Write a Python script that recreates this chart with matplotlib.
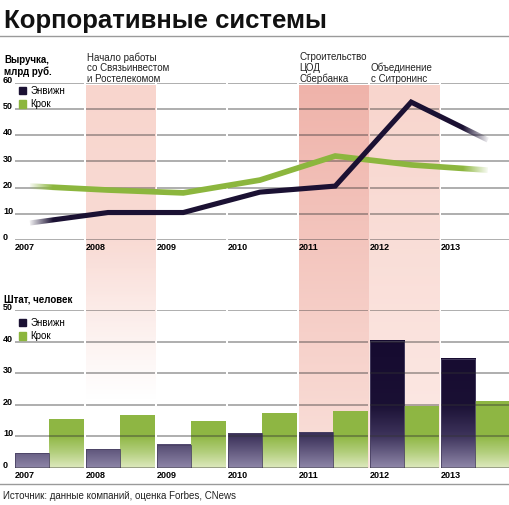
import numpy as np
import matplotlib
matplotlib.use('Agg')
import matplotlib.pyplot as plt
from matplotlib.patches import Rectangle, Patch
from matplotlib import transforms

plt.rcParams['font.family'] = ['Liberation Sans', 'DejaVu Sans']

# --- data ---
years = [2007, 2008, 2009, 2010, 2011, 2012, 2013]
series = ['Энвижн', 'Крок']
# x positions of the revenue points (the chart places them off the year marks)
rev_x = [2007.21, 2008.31, 2009.37, 2010.45, 2011.51, 2012.58, 2013.66]
rev_envision = [6.5, 10.5, 10.5, 18.3, 20.6, 52.7, 38.2]
rev_krok = [20.6, 19.1, 18.0, 22.9, 32.1, 28.7, 26.7]
staff_envision = [4.6, 5.9, 7.3, 11.0, 11.3, 40.3, 34.5]
staff_krok = [15.2, 16.5, 14.6, 17.3, 18.0, 19.6, 20.9]
rev_ticks = [0, 10, 20, 30, 40, 50, 60]
staff_ticks = [0, 10, 20, 30, 40, 50]
event_years = [2008, 2011, 2012]
event_texts = ['Начало работы\nсо Связьинвестом\nи Ростелекомом',
               'Строительство\nЦОД\nСбербанка',
               'Объединение\nс Ситронинс']

DARK = '#1b1133'
GREEN = '#8cb63e'
GRID = '#333333'

W, H = 509, 505
fig = plt.figure(figsize=(W / 100, H / 100), dpi=100)


def fy(py):
    return 1 - py / H


col_px = 71.0
x0_px = 15
xmax = 2007 + (W - x0_px) / col_px

# background layer in pixel coords for the highlighted columns
bg = fig.add_axes([0, 0, 1, 1], zorder=0)
bg.set_xlim(0, W)
bg.set_ylim(H, 0)
bg.axis('off')


def vgrad(ax, x0, x1, y0, y1, top_rgb, bot_rgb, a_knee=None):
    n = 200
    t = np.linspace(0, 1, n)
    img = np.zeros((n, 1, 4))
    for k in range(3):
        img[:, 0, k] = (top_rgb[k] + (bot_rgb[k] - top_rgb[k]) * t) / 255
    if a_knee is None:
        img[:, 0, 3] = 1.0
    else:
        img[:, 0, 3] = np.clip((1 - t) / (1 - a_knee), 0, 1)
    ax.imshow(img, extent=(x0, x1, y1, y0), aspect='auto', origin='upper',
              interpolation='bilinear', zorder=0)


# 2008 column fades out into the lower chart
vgrad(bg, 86, 156, 85, 400, (248, 213, 205), (250, 225, 220), a_knee=0.5)
vgrad(bg, 299, 369, 85, 468, (239, 179, 170), (250, 224, 218))
vgrad(bg, 369, 440, 85, 468, (248, 213, 205), (252, 234, 230))
bg.set_xlim(0, W)
bg.set_ylim(H, 0)

# title and rules
fig.text(4 / W, fy(28), 'Корпоративные системы', fontsize=18.5, fontweight='bold',
         va='baseline', ha='left', color='#111111')
bg.plot([0, W], [36, 36], color='#9a9a9a', lw=1.0)
bg.plot([0, W], [484, 484], color='#9a9a9a', lw=1.0)
fig.text(3 / W, fy(499), 'Источник: данные компаний, оценка Forbes, CNews',
         fontsize=7, va='baseline', ha='left', color='#222222')

# axes
ax1 = fig.add_axes([x0_px / W, fy(240), (W - x0_px) / W, 157 / H], zorder=1)
ax2 = fig.add_axes([x0_px / W, fy(468), (W - x0_px) / W, 158 / H], zorder=1)
for ax in (ax1, ax2):
    ax.patch.set_visible(False)
    for s in ax.spines.values():
        s.set_visible(False)
    ax.set_xlim(2007, xmax)

ax1.set_ylim(0, 60)
ax2.set_ylim(0, 50)


def column_grid(ax, levels, zorder):
    for yr in years:
        ax.hlines(levels, yr, min(yr + 0.972, xmax), colors=GRID, alpha=0.5,
                  lw=1.1, zorder=zorder)


def style_ticks(ax, ticks, xpad):
    ax.set_yticks(ticks)
    ax.set_yticklabels([str(t) for t in ticks], fontsize=6.5, fontweight='bold')
    ax.tick_params(axis='y', length=0, pad=xpad)
    for lab in ax.get_yticklabels():
        lab.set_horizontalalignment('left')
        lab.set_verticalalignment('baseline')
    ax.set_xticks(years)
    ax.set_xticklabels([str(y) for y in years], fontsize=6.5, fontweight='bold')
    ax.tick_params(axis='x', length=0, pad=2.5)
    for lab in ax.get_xticklabels():
        lab.set_horizontalalignment('left')


style_ticks(ax1, rev_ticks, 8.6)
style_ticks(ax2, staff_ticks, 8.6)

# --- revenue lines ---
column_grid(ax1, rev_ticks, 1)


def fading_line(ax, xs, ys, color, lw, zorder, fade_in=0.3, fade_out=0.33):
    # whole polyline drawn once solid in the middle, and again in 1px strips
    # with falling alpha at both ends, so joins stay intact
    xs = np.asarray(xs, float)
    ys = np.asarray(ys, float)
    xa = xs[0] + (xs[1] - xs[0]) * fade_in
    xb = xs[-2] + (xs[-1] - xs[-2]) * (1 - fade_out)
    kw = dict(color=color, lw=lw, solid_joinstyle='miter', solid_capstyle='butt',
              zorder=zorder)
    line, = ax.plot(xs, ys, **kw)
    line.set_clip_path(Rectangle((xa, -100), xb - xa, 300, transform=ax.transData))
    step = 1 / col_px
    left = np.arange(xa, xs[0] - 0.06, -step)
    for k in range(len(left) - 1):
        hi, lo = left[k], left[k + 1]
        a = np.clip(0.05 + 0.95 * ((hi + lo) / 2 - xs[0]) / (xa - xs[0]), 0.05, 1)
        ln, = ax.plot(xs, ys, alpha=a, **kw)
        ln.set_clip_path(Rectangle((lo, -100), hi - lo, 300, transform=ax.transData))
    right = np.arange(xb, xs[-1] + 0.06, step)
    for k in range(len(right) - 1):
        lo, hi = right[k], right[k + 1]
        a = np.clip(0.05 + 0.95 * (xs[-1] - (hi + lo) / 2) / (xs[-1] - xb), 0.05, 1)
        ln, = ax.plot(xs, ys, alpha=a, **kw)
        ln.set_clip_path(Rectangle((lo, -100), hi - lo, 300, transform=ax.transData))


fading_line(ax1, rev_x, rev_krok, GREEN, 4.1, 3)
fading_line(ax1, rev_x, rev_envision, DARK, 3.7, 4)

# --- staff bars with vertical gradients ---
column_grid(ax2, staff_ticks, 5)

dark_stops = ([0, 10, 20, 50], [(142, 134, 168), (62, 52, 92), (26, 16, 52), (20, 8, 46)])
green_stops = ([0, 5, 10, 50], [(222, 233, 190), (178, 206, 124), (143, 183, 68), (141, 182, 63)])


def bar_gradient(ax, x, w, h, stops, zorder):
    vals = np.linspace(h, 0, 120)
    img = np.zeros((len(vals), 1, 3))
    for k in range(3):
        img[:, 0, k] = np.interp(vals, stops[0], [c[k] for c in stops[1]]) / 255
    ax.imshow(img, extent=(x, x + w, 0, h), aspect='auto', origin='upper',
              interpolation='bilinear', zorder=zorder)


bw1, bw2 = 0.48, 0.49
b1 = ax2.bar(years, staff_envision, width=bw1, align='edge', color='none',
             edgecolor='#4a4264', lw=0.6, zorder=4)
b2 = ax2.bar(np.array(years) + bw1, staff_krok, width=bw2, align='edge',
             color='none', edgecolor='none', zorder=4)
for r in b1:
    bar_gradient(ax2, r.get_x(), r.get_width(), r.get_height(), dark_stops, 3)
for r in b2:
    bar_gradient(ax2, r.get_x(), r.get_width(), r.get_height(), green_stops, 3)
ax2.set_xlim(2007, xmax)
ax2.set_ylim(0, 50)

# legends
for ax, ypx in ((ax1, 86), (ax2, 318)):
    handles = [Patch(color=DARK), Patch(color=GREEN)]
    ax.legend(handles, series, loc='upper left', bbox_to_anchor=(19 / W, fy(ypx)),
              bbox_transform=fig.transFigure, frameon=False, fontsize=7,
              borderaxespad=0, borderpad=0, handlelength=0.75, handleheight=0.75,
              handletextpad=0.45, labelspacing=0.35)

# headers and event annotations
fig.text(4 / W, fy(55), 'Выручка,\nмлрд руб.', fontsize=7, fontweight='bold',
         va='top', ha='left', linespacing=1.12)
fig.text(4 / W, fy(302), 'Штат, человек', fontsize=7, fontweight='bold',
         va='baseline', ha='left')
tr = transforms.blended_transform_factory(ax1.transData, fig.transFigure)
for yr, txt in zip(event_years, event_texts):
    ax1.text(yr + 0.01, fy(84), txt, transform=tr, fontsize=7, va='bottom',
             ha='left', linespacing=1.09, color='#222222')

fig.savefig('out.png', dpi=100)
